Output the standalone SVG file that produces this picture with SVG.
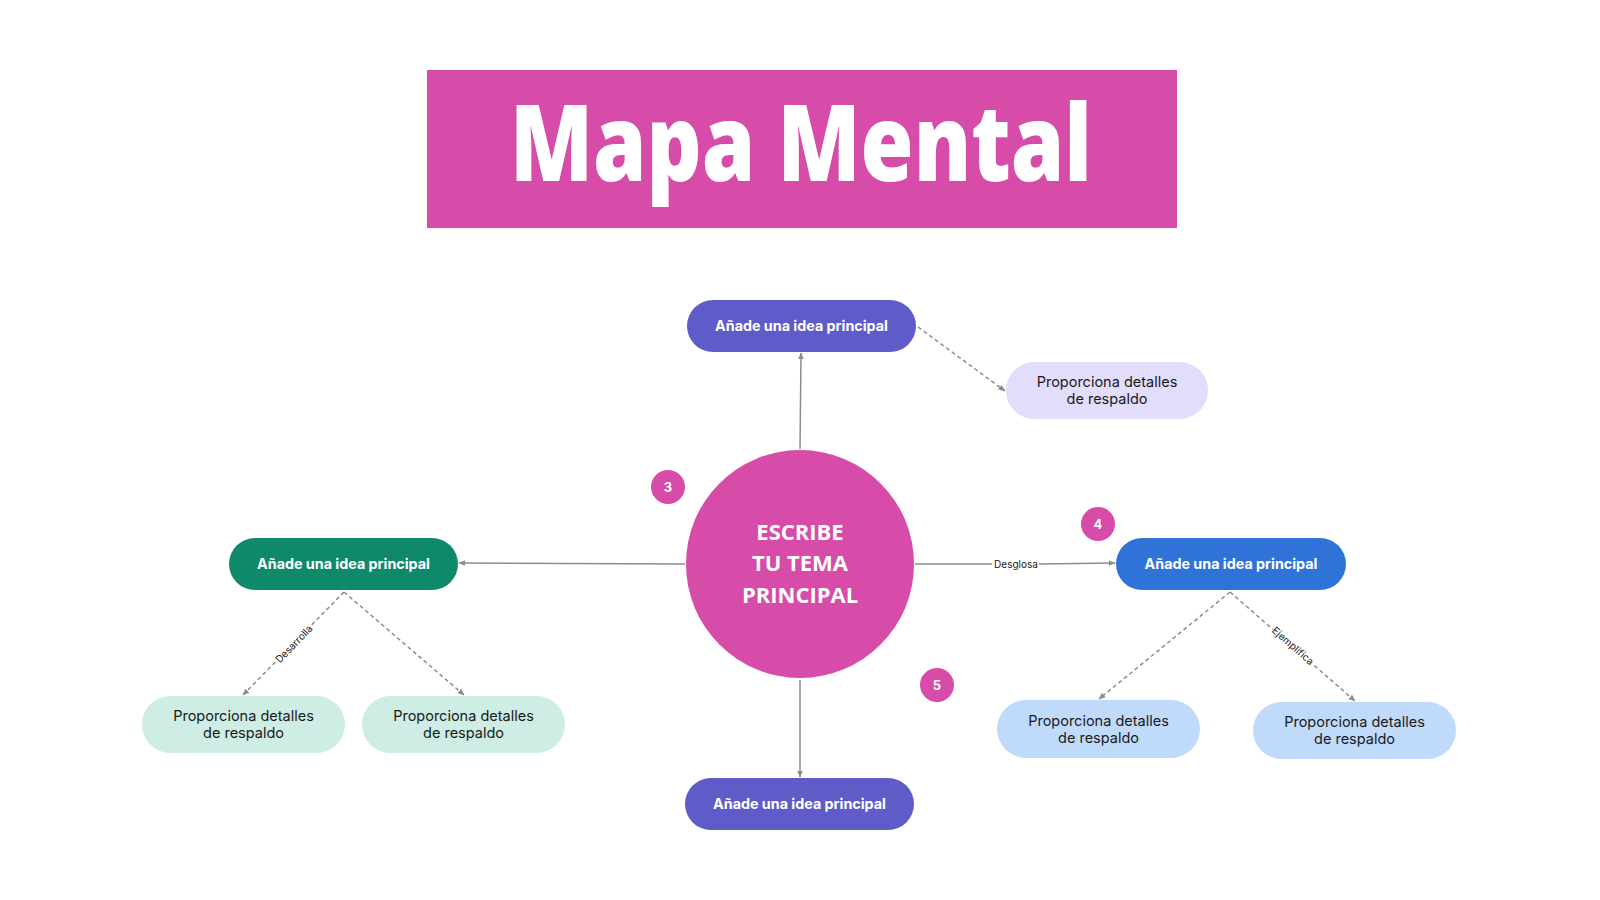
<svg xmlns="http://www.w3.org/2000/svg" width="1600" height="900" viewBox="0 0 1600 900">
<defs>
<marker id="arr" viewBox="0 0 10 10" refX="9" refY="5" markerWidth="7" markerHeight="7" orient="auto" markerUnits="userSpaceOnUse">
<path d="M0,1 L10,5 L0,9 z" fill="#8c8c8c"/>
</marker>
<style>
.main{fill:#fff;font-family:Inter,"Liberation Sans",sans-serif;font-weight:700;font-size:14.3px;text-anchor:middle}
.det{fill:#1a1a1a;font-family:Inter,"Liberation Sans",sans-serif;font-size:14.5px;text-anchor:middle}
.lbl{fill:#1a1a1a;font-family:Inter,"Liberation Sans",sans-serif;font-size:10px;text-anchor:middle}
.badge{fill:#fff;font-family:Inter,"Liberation Sans",sans-serif;font-weight:700;font-size:13px;text-anchor:middle}
.solid{stroke:#8c8c8c;stroke-width:1.5;fill:none}
.dash{stroke:#8c8c8c;stroke-width:1.5;fill:none;stroke-dasharray:4 3}
.pink{fill:#D74BA9}
.ctr{fill:#fff;font-family:"Open Sans","Liberation Sans",sans-serif;font-weight:700;font-size:22px;text-anchor:middle}
</style>
</defs>
<rect width="1600" height="900" fill="#fff"/>

<g id="title">
<rect x="427" y="70" width="750" height="158" class="pink"/>
<text x="801" y="181" fill="#fff" font-family="'Open Sans','Liberation Sans',sans-serif" font-weight="800" font-size="106" text-anchor="middle" textLength="582" lengthAdjust="spacingAndGlyphs">Mapa Mental</text>
</g>

<g id="connectors">
<line x1="800" y1="449" x2="801" y2="353" class="solid" marker-end="url(#arr)"/>
<line x1="685" y1="564" x2="459" y2="563" class="solid" marker-end="url(#arr)"/>
<line x1="915" y1="564" x2="992" y2="564" class="solid"/>
<line x1="1039" y1="564" x2="1115" y2="563" class="solid" marker-end="url(#arr)"/>
<line x1="800" y1="680" x2="800" y2="777" class="solid" marker-end="url(#arr)"/>
<line x1="918" y1="327" x2="1005" y2="391" class="dash" marker-end="url(#arr)"/>
<line x1="344" y1="592" x2="243" y2="695" class="dash" marker-end="url(#arr)"/>
<line x1="344" y1="592" x2="464" y2="695" class="dash" marker-end="url(#arr)"/>
<line x1="1230" y1="592" x2="1099" y2="699" class="dash" marker-end="url(#arr)"/>
<line x1="1230" y1="592" x2="1355" y2="701" class="dash" marker-end="url(#arr)"/>
<text class="lbl" x="1016" y="567.5">Desglosa</text>
<g transform="translate(294,644) rotate(-45.8)">
<rect x="-24" y="-7" width="48" height="13" fill="#fff"/>
<text class="lbl" x="0" y="3.5">Desarrolla</text>
</g>
<g transform="translate(1293,646) rotate(41.3)">
<rect x="-26" y="-7" width="52" height="13" fill="#fff"/>
<text class="lbl" x="0" y="3.5">Ejemplifica</text>
</g>
</g>

<g id="center">
<circle cx="800" cy="564" r="114" class="pink"/>
<text class="ctr" x="800" y="540">ESCRIBE</text>
<text class="ctr" x="800" y="571">TU TEMA</text>
<text class="ctr" x="800" y="603">PRINCIPAL</text>
</g>

<g id="idea-top">
<rect x="687" y="300" width="229" height="52" rx="26" fill="#5F5BC9"/>
<text class="main" x="801.5" y="331">Añade una idea principal</text>
</g>
<g id="idea-left">
<rect x="229" y="538" width="229" height="52" rx="26" fill="#0E8A6B"/>
<text class="main" x="343.5" y="569">Añade una idea principal</text>
</g>
<g id="idea-right">
<rect x="1116" y="538" width="230" height="52" rx="26" fill="#2F73D9"/>
<text class="main" x="1231" y="569">Añade una idea principal</text>
</g>
<g id="idea-bottom">
<rect x="685" y="778" width="229" height="52" rx="26" fill="#5F5BC9"/>
<text class="main" x="799.5" y="809">Añade una idea principal</text>
</g>

<g id="detail-top">
<rect x="1006" y="362" width="202" height="57" rx="28.5" fill="#E1DDFB"/>
<text class="det" x="1107" y="387">Proporciona detalles</text>
<text class="det" x="1107" y="404">de respaldo</text>
</g>
<g id="detail-left-1">
<rect x="142" y="696" width="203" height="57" rx="28.5" fill="#CDEDE5"/>
<text class="det" x="243.5" y="721">Proporciona detalles</text>
<text class="det" x="243.5" y="738">de respaldo</text>
</g>
<g id="detail-left-2">
<rect x="362" y="696" width="203" height="57" rx="28.5" fill="#CDEDE5"/>
<text class="det" x="463.5" y="721">Proporciona detalles</text>
<text class="det" x="463.5" y="738">de respaldo</text>
</g>
<g id="detail-right-1">
<rect x="997" y="700" width="203" height="58" rx="29" fill="#C0DAFB"/>
<text class="det" x="1098.5" y="726">Proporciona detalles</text>
<text class="det" x="1098.5" y="743">de respaldo</text>
</g>
<g id="detail-right-2">
<rect x="1253" y="702" width="203" height="57" rx="28.5" fill="#C0DAFB"/>
<text class="det" x="1354.5" y="727">Proporciona detalles</text>
<text class="det" x="1354.5" y="744">de respaldo</text>
</g>

<g id="badge-3">
<circle cx="668" cy="487" r="17" class="pink"/>
<text class="badge" x="668" y="491.5">3</text>
</g>
<g id="badge-4">
<circle cx="1098" cy="524" r="17" class="pink"/>
<text class="badge" x="1098" y="528.5">4</text>
</g>
<g id="badge-5">
<circle cx="937" cy="685" r="17" class="pink"/>
<text class="badge" x="937" y="689.5">5</text>
</g>
</svg>
